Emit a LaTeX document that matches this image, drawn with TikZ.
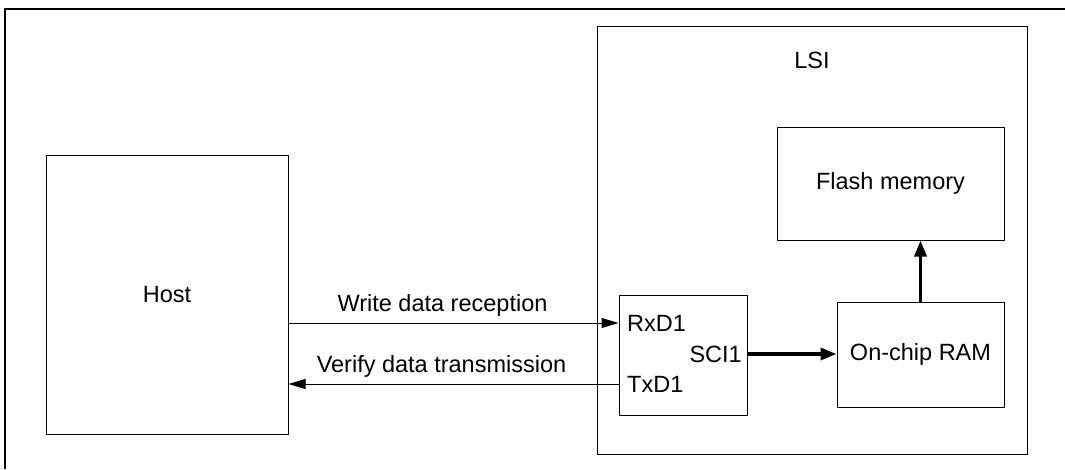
\documentclass[tikz,border=0pt]{standalone}
\usepackage{fontspec}
\setmainfont{Liberation Sans}
\usetikzlibrary{arrows.meta}

\tikzset{
    blk/.style={draw, line width=1pt, inner sep=0pt, font=\fontsize{23.5}{28}\selectfont},
    lbl/.style={inner sep=0pt, font=\fontsize{23.5}{28}\selectfont},
    thin arrow/.style={line width=1pt, -{Triangle[length=17pt,width=10pt]}},
    bus arrow/.style={line width=3.5pt, -{Triangle[length=16pt,width=12pt]}}
}

\begin{document}
\begin{tikzpicture}[x=1pt,y=-1pt]
    \useasboundingbox (0,0) rectangle (1065,469);
    % frame
    \draw[line width=2.2pt] (5,469) -- (5,9) -- (1065,9);
    % blocks
    \node[blk, minimum width=430pt, minimum height=428pt] (lsi) at (812,240) {};
    \node[lbl] (lsilbl) at (812,60) {LSI};
    \node[blk, minimum width=242pt, minimum height=279pt] (host) at (167,294.5) {Host};
    \node[blk, minimum width=227pt, minimum height=113pt] (flash) at (890.5,183.5) {Flash memory};
    \node[blk, minimum width=167pt, minimum height=105pt] (ram) at (920.5,354.5) {On-chip RAM};
    \node[blk, minimum width=128pt, minimum height=120pt] (sci) at (683,355) {};
    \node[lbl, anchor=west] (rxd) at (627,323) {RxD1};
    \node[lbl, anchor=west] (txd) at (627,384) {TxD1};
    \node[lbl, anchor=east] (scilbl) at (742,354) {SCI1};
    % serial lines
    \draw[thin arrow] (host.east |- rxd) -- node[lbl, above=6pt, xshift=-11pt] (wr) {Write data reception} (sci.west |- rxd);
    \draw[thin arrow] (sci.west |- txd) -- node[lbl, above=6pt, xshift=-12pt] (vf) {Verify data transmission} (host.east |- txd);
    % internal bus
    \draw[bus arrow] (sci.east |- scilbl) -- (ram.west |- scilbl);
    \draw[bus arrow] (ram.north) -- (flash.south -| ram.north);
\end{tikzpicture}
\end{document}
